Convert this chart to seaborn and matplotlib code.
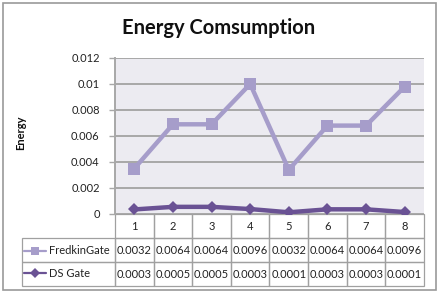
import numpy as np
import pandas as pd
import matplotlib
matplotlib.use("Agg")
import matplotlib.pyplot as plt
from matplotlib.patches import Rectangle
from matplotlib.lines import Line2D
import seaborn as sns

# ---- data ----
categories = ["1", "2", "3", "4", "5", "6", "7", "8"]
fredkin_plot = [0.0035, 0.0069, 0.0069, 0.0100, 0.0034, 0.0068, 0.0068, 0.0098]
ds_plot = [0.00035, 0.00055, 0.00055, 0.00038, 0.00013, 0.00036, 0.00036, 0.00015]
fredkin_table = [0.0032, 0.0064, 0.0064, 0.0096, 0.0032, 0.0064, 0.0064, 0.0096]
ds_table = [0.0003, 0.0005, 0.0005, 0.0003, 0.0001, 0.0003, 0.0003, 0.0001]
series_names = ["FredkinGate", "DS Gate"]
y_ticks = [0, 0.002, 0.004, 0.006, 0.008, 0.01, 0.012]
title = "Energy Comsumption"
ylabel = "Energy"

colors = ["#A69DCA", "#6A5294"]
markers = ["s", "D"]

sns.set_theme(style="white")
plt.rcParams['font.family'] = ['Lato', 'DejaVu Sans']

df = pd.DataFrame({
    "cat": categories * 2,
    "val": fredkin_plot + ds_plot,
    "series": [series_names[0]] * 8 + [series_names[1]] * 8,
})

W, H = 439, 293
fig = plt.figure(figsize=(W / 100, H / 100), dpi=100)
fig.patch.set_facecolor("white")
ax_l, ax_r, ax_b, ax_t = 115, 424, 214, 58
ax = fig.add_axes([ax_l / W, (H - ax_b) / H, (ax_r - ax_l) / W, (ax_b - ax_t) / H])
ax.set_facecolor("#ECEBF1")

sns.pointplot(data=df, x="cat", y="val", hue="series", order=categories,
              hue_order=series_names, palette=colors, markers=markers,
              linestyles=["-", "-"], ax=ax, legend=False)
for line in ax.lines:
    line.set_linewidth(3.2)
    if line.get_marker() == "s":
        line.set_markersize(8.5)
    elif line.get_marker() == "D":
        line.set_markersize(6.5)
    line.set_markeredgewidth(0)

ax.set_xlim(-0.5, len(categories) - 0.5)
ax.set_ylim(0, 0.012)
ax.set_yticks(y_ticks)
ax.set_yticklabels([f"{v:g}" for v in y_ticks], fontsize=8, color="#222222")
ax.set_xticks([])
ax.set_xlabel("")
ax.grid(axis="y", color="#A8A8A8", linewidth=1.4)
ax.set_axisbelow(True)
for s in ["top", "right", "bottom"]:
    ax.spines[s].set_visible(False)
ax.spines["left"].set_color("#A8A8A8")
ax.spines["left"].set_linewidth(1.4)
ax.tick_params(axis="y", which="major", left=True, length=4, width=1, color="#A8A8A8", pad=7)

ax.set_ylabel(ylabel, fontsize=8, fontweight="bold", color="#111111")
ax.yaxis.set_label_coords((26 - ax_l) / (ax_r - ax_l), (ax_b - 133) / (ax_b - ax_t))

# title
fig.text(219 / W, 1 - 34 / H, title, ha="center", va="baseline",
         fontsize=14.5, fontweight="bold", color="#111111")

# data table
ax_w = ax_r - ax_l
ax_h = ax_b - ax_t
lab_w = (ax_l - 22) / ax_w
tab_h = (286 - ax_b) / ax_h
cell_text = [[""] + [f"{v:.4f}" for v in fredkin_table],
             [""] + [f"{v:.4f}" for v in ds_table]]
tab = ax.table(cellText=cell_text, colLabels=[""] + categories, cellLoc="center",
               colWidths=[lab_w] + [1 / len(categories)] * len(categories),
               bbox=[-lab_w, -tab_h, 1 + lab_w, tab_h])
tab.auto_set_font_size(False)
tab.set_fontsize(8)
for (r, c), cell in tab.get_celld().items():
    cell.set_edgecolor("#A0A0A0")
    cell.set_linewidth(0.9)
    cell.set_facecolor("none")
    cell.get_text().set_color("#222222")
    if r == 0 and c == 0:
        cell.visible_edges = ""

# legend keys inside the table's first column
handles = [Line2D([], [], color=c, marker=m, lw=1.6, markeredgewidth=0,
                  markersize=(6 if m == "s" else 5))
           for c, m in zip(colors, markers)]
leg = ax.legend(handles, series_names, loc="center left",
                bbox_to_anchor=((24 - ax_l) / ax_w, (ax_b - 262) / ax_h),
                frameon=False, fontsize=8, handlelength=2.0, handletextpad=0.25,
                labelspacing=1.0, borderpad=0, borderaxespad=0)
for t in leg.get_texts():
    t.set_color("#222222")

# outer chart border
fig.patches.append(Rectangle((3 / W, 3 / H), 433 / W, 287 / H, transform=fig.transFigure,
                             fill=False, edgecolor="#9A9A9A", linewidth=1.2))

fig.savefig("out.png", dpi=100)
